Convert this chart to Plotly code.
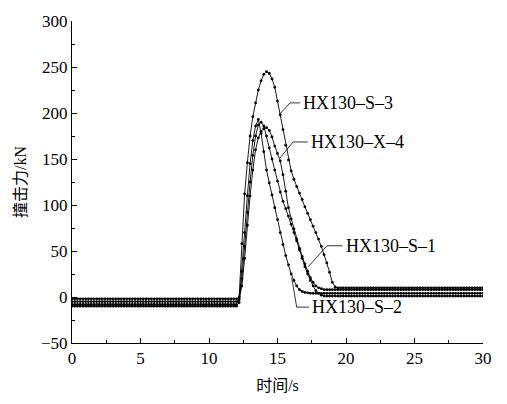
import numpy as np
import plotly.graph_objects as go

# time axis (s), sampled every 0.2 s
t = np.round(np.arange(0, 30.001, 0.2), 1)

# impact force (kN): steady level before impact, pulse 12.0-19.4 s, steady level after
s3_pre, s3_post = -8, 10
s3_pulse = [-8, 0, 58, 112, 146, 175, 196, 211, 225, 235, 242, 245, 243, 237, 228,
            213, 198, 182, 165, 149, 137, 128, 120, 113, 106, 98, 91, 84, 77, 70,
            63, 55, 46, 37, 27, 16, 11, 10]

s2_pre, s2_post = -10, 4
s2_pulse = [-10, -6, 28, 70, 110, 145, 170, 186, 193, 178, 158, 138, 124, 111, 97,
            84, 70, 57, 45, 35, 25, 18, 12, 8, 6, 5, 4.5, 4, 4, 4, 4, 4, 4, 4, 4,
            4, 4, 4]

s1_pre, s1_post = -2, 1
s1_pulse = [-2, -1, 20, 55, 92, 125, 154, 175, 187, 190, 186, 175, 162, 150, 138,
            126, 114, 104, 96, 88, 79, 70, 61, 51, 42, 33, 25, 18, 12, 7, 4, 2, 1,
            1, 1, 1, 1, 1]

x4_pre, x4_post = -5, 8
x4_pulse = [-5, -3, 12, 42, 78, 110, 138, 160, 173, 180, 183, 184, 181, 174, 164,
            156, 148, 133, 115, 97, 85, 74, 63, 53, 44, 36, 28, 21, 16, 12, 10, 9,
            8, 8, 8, 8, 8, 8]

n_pre = 60     # 0.0 .. 11.8 s
n_post = len(t) - n_pre - 38


def full(pre, pulse, post):
    return [pre] * n_pre + pulse + [post] * n_post


series = {
    "HX130–S–3": full(s3_pre, s3_pulse, s3_post),
    "HX130–S–2": full(s2_pre, s2_pulse, s2_post),
    "HX130–S–1": full(s1_pre, s1_pulse, s1_post),
    "HX130–X–4": full(x4_pre, x4_pulse, x4_post),
}

# callout labels: text anchor (x, y) and leader polyline points
callouts = [
    ("HX130–S–3", (16.75, 211), [(15.18, 199), (15.91, 211), (16.64, 211)]),
    ("HX130–X–4", (17.3, 168.5), [(15.18, 151), (16.13, 168.5), (17.2, 168.5)]),
    ("HX130–S–1", (19.85, 55.7), [(17.25, 33), (18.61, 55.7), (19.75, 55.7)]),
    ("HX130–S–2", (17.4, -11), [(16.04, 21), (16.4, -11), (17.3, -11)]),
]

serif = "Liberation Serif, Times New Roman, serif"
cjk = "Liberation Serif, Noto Sans CJK SC, serif"

fig = go.Figure()
for name, vals in series.items():
    fig.add_trace(go.Scatter(
        x=t, y=vals, name=name, mode="lines+markers",
        line=dict(color="black", width=0.9),
        marker=dict(color="black", size=2.8, symbol="circle"),
        showlegend=False,
    ))

shapes = []
annotations = []
for text, (tx, ty), pts in callouts:
    for (x0, y0), (x1, y1) in zip(pts[:-1], pts[1:]):
        shapes.append(dict(type="line", xref="x", yref="y", x0=x0, y0=y0,
                           x1=x1, y1=y1, line=dict(color="black", width=0.8)))
    annotations.append(dict(x=tx, y=ty, xref="x", yref="y", text=text,
                            showarrow=False, xanchor="left", yanchor="middle",
                            font=dict(family=serif, size=18, color="black")))

axis_common = dict(
    showline=True, linecolor="black", linewidth=1, mirror=False,
    ticks="inside", ticklen=5, tickwidth=1, tickcolor="black",
    showgrid=False, zeroline=False,
    tickfont=dict(family=serif, size=17, color="black"),
)

fig.update_layout(
    width=507, height=404,
    margin=dict(l=72, r=24, t=16, b=57),
    paper_bgcolor="white", plot_bgcolor="white",
    shapes=shapes, annotations=annotations,
    xaxis=dict(range=[0, 30], dtick=5, tick0=0,
               minor=dict(ticks="inside", dtick=2.5, ticklen=3, tickcolor="black"),
               title=dict(text="时间/s", font=dict(family=cjk, size=16, color="black"),
                          standoff=12),
               **axis_common),
    yaxis=dict(range=[-50, 300], dtick=50, tick0=0,
               minor=dict(ticks="inside", dtick=25, ticklen=3, tickcolor="black"),
               title=dict(text="撞击力/kN", font=dict(family=cjk, size=16, color="black"),
                          standoff=10),
               **axis_common),
)

fig.write_html("out.html")
